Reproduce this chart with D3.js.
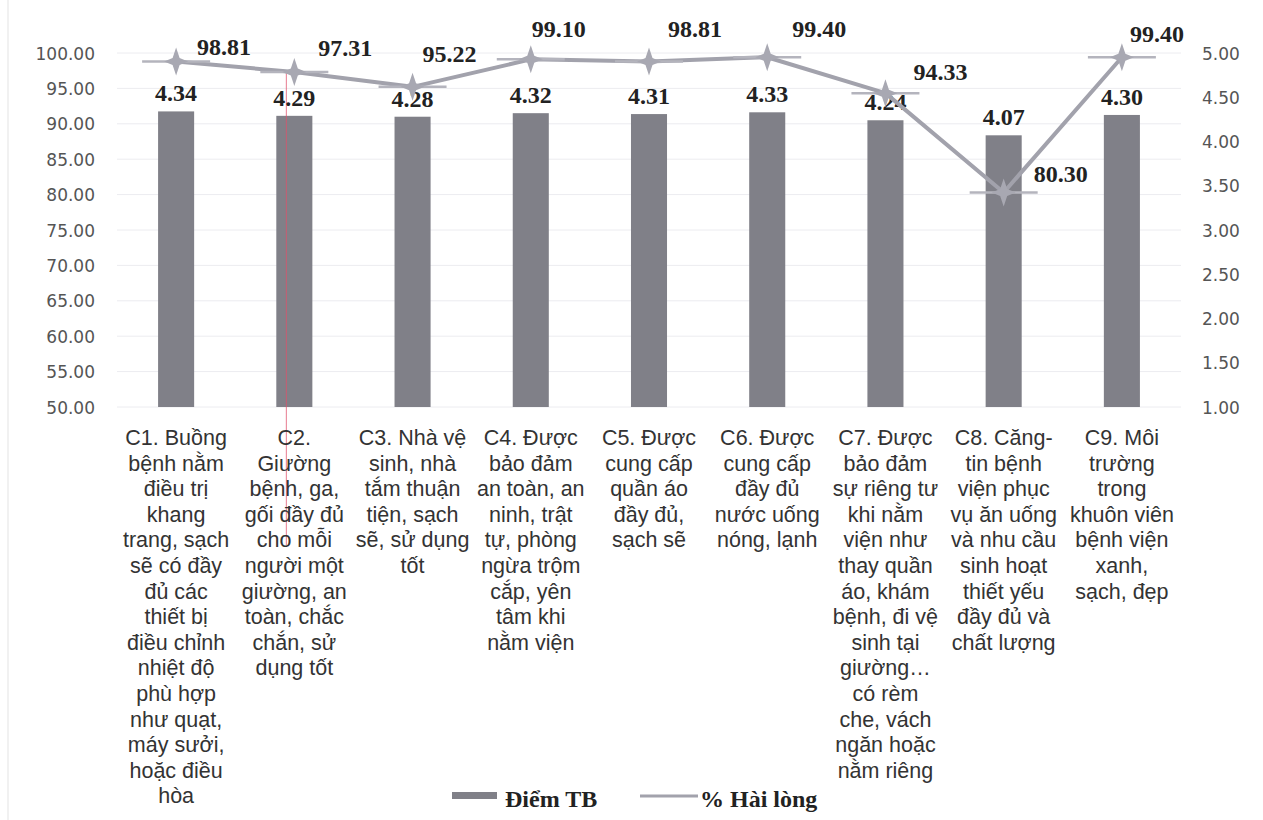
<!DOCTYPE html>
<html>
<head>
<meta charset="utf-8">
<script src="https://cdn.jsdelivr.net/npm/d3@7"></script>
<style>
  html, body { margin: 0; padding: 0; background: #ffffff; }
  svg { display: block; }
</style>
</head>
<body>
<svg id="chart" width="1263" height="820"></svg>
<script>
// ---- data ----
const categories = ["C1", "C2", "C3", "C4", "C5", "C6", "C7", "C8", "C9"];
const categoryLabels = [
  ["C1. Buồng", "bệnh nằm", "điều trị", "khang", "trang, sạch", "sẽ có đầy", "đủ các", "thiết bị", "điều chỉnh", "nhiệt độ", "phù hợp", "như quạt,", "máy sưởi,", "hoặc điều", "hòa"],
  ["C2.", "Giường", "bệnh, ga,", "gối đầy đủ", "cho mỗi", "người một", "giường, an", "toàn, chắc", "chắn, sử", "dụng tốt"],
  ["C3. Nhà vệ", "sinh, nhà", "tắm thuận", "tiện, sạch", "sẽ, sử dụng", "tốt"],
  ["C4. Được", "bảo đảm", "an toàn, an", "ninh, trật", "tự, phòng", "ngừa trộm", "cắp, yên", "tâm khi", "nằm viện"],
  ["C5. Được", "cung cấp", "quần áo", "đầy đủ,", "sạch sẽ"],
  ["C6. Được", "cung cấp", "đầy đủ", "nước uống", "nóng, lạnh"],
  ["C7. Được", "bảo đảm", "sự riêng tư", "khi nằm", "viện như", "thay quần", "áo, khám", "bệnh, đi vệ", "sinh tại", "giường…", "có rèm", "che, vách", "ngăn hoặc", "nằm riêng"],
  ["C8. Căng-", "tin bệnh", "viện phục", "vụ ăn uống", "và nhu cầu", "sinh hoạt", "thiết yếu", "đầy đủ và", "chất lượng"],
  ["C9. Môi", "trường", "trong", "khuôn viên", "bệnh viện", "xanh,", "sạch, đẹp"]
];
const diemTB = [4.34, 4.29, 4.28, 4.32, 4.31, 4.33, 4.24, 4.07, 4.30];
const haiLong = [98.81, 97.31, 95.22, 99.10, 98.81, 99.40, 94.33, 80.30, 99.40];
const leftTicks = [50, 55, 60, 65, 70, 75, 80, 85, 90, 95, 100];
const rightTicks = [1.0, 1.5, 2.0, 2.5, 3.0, 3.5, 4.0, 4.5, 5.0];
const seriesNames = ["Điểm TB", "% Hài lòng"];

// ---- layout / style (not data) ----
const lineLabelNudge = [[21, -6], [24, -16], [10, -25], [1, -22], [19, -24], [25, -20], [28, -13], [30, -10], [8, -15]];
const plot = { left: 117, right: 1181, top: 53, bottom: 407 };
const barColor = "#808088";
const lineColor = "#a2a2ac";
const markerColor = "#a8a8b2";
const numFont = "'Liberation Serif', 'Times New Roman', serif";
const sansAxis = "'DejaVu Sans', Verdana, sans-serif";
const sansCat = "'Liberation Sans', Arial, sans-serif";

const svg = d3.select("#chart");

const x = d3.scaleBand().domain(categories).range([plot.left, plot.right]).paddingInner(0).paddingOuter(0);
const yL = d3.scaleLinear().domain([50, 100]).range([plot.bottom, plot.top]);
const yR = d3.scaleLinear().domain([1, 5]).range([plot.bottom, plot.top]);

// faint scan border
svg.append("line").attr("x1", 8).attr("x2", 8).attr("y1", 0).attr("y2", 820)
  .attr("stroke", "#ececec").attr("stroke-width", 1.5);

// gridlines
svg.append("g").selectAll("line").data(leftTicks).join("line")
  .attr("x1", plot.left).attr("x2", plot.right)
  .attr("y1", d => yL(d)).attr("y2", d => yL(d))
  .attr("stroke", "#ececf0").attr("stroke-width", 1);

// left axis
const axL = svg.append("g").attr("transform", `translate(${plot.left - 20},0)`)
  .call(d3.axisLeft(yL).tickValues(leftTicks).tickFormat(d3.format(".2f")).tickSize(0).tickPadding(2));
axL.select(".domain").remove();
axL.selectAll("text").attr("font-family", sansAxis).attr("font-size", 17).attr("fill", "#555").attr("dy", "0.36em");

// right axis
const axR = svg.append("g").attr("transform", `translate(${plot.right + 19},0)`)
  .call(d3.axisRight(yR).tickValues(rightTicks).tickFormat(d3.format(".2f")).tickSize(0).tickPadding(2));
axR.select(".domain").remove();
axR.selectAll("text").attr("font-family", sansAxis).attr("font-size", 17).attr("fill", "#555").attr("dy", "0.36em");

// bars
const bw = x.bandwidth() * 0.305;
svg.append("g").selectAll("rect").data(diemTB).join("rect")
  .attr("x", (d, i) => x(categories[i]) + x.bandwidth() / 2 - bw / 2)
  .attr("width", bw)
  .attr("y", d => yR(d))
  .attr("height", d => yR(1) - yR(d))
  .attr("fill", barColor);

// red cursor artifact over C2
svg.append("line")
  .attr("x1", x("C2") + x.bandwidth() / 2 - 8).attr("x2", x("C2") + x.bandwidth() / 2 - 8)
  .attr("y1", 70).attr("y2", 545)
  .attr("stroke", "#e0506a").attr("stroke-width", 1).attr("opacity", 0.75);

// bar labels
svg.append("g").selectAll("text").data(diemTB).join("text")
  .attr("x", (d, i) => x(categories[i]) + x.bandwidth() / 2)
  .attr("y", d => yR(d) - 10)
  .attr("text-anchor", "middle")
  .attr("font-family", numFont).attr("font-weight", "bold").attr("font-size", 24)
  .attr("fill", "#222")
  .text(d => d3.format(".2f")(d));

// line
const cx = i => x(categories[i]) + x.bandwidth() / 2;
const line = d3.line().x((d, i) => cx(i)).y(d => yL(d));
svg.append("path").datum(haiLong)
  .attr("d", line).attr("fill", "none")
  .attr("stroke", lineColor).attr("stroke-width", 4).attr("stroke-linejoin", "round");

// markers: 4-point star with thin horizontal whiskers
const mg = svg.append("g").selectAll("g").data(haiLong).join("g")
  .attr("transform", (d, i) => `translate(${cx(i)},${yL(d)})`);
mg.append("line").attr("x1", -34).attr("x2", 34).attr("y1", 0).attr("y2", 0)
  .attr("stroke", "#b4b4bd").attr("stroke-width", 2.5);
mg.append("path")
  .attr("d", "M0,-14 L3.5,-3.5 L12,0 L3.5,3.5 L0,14 L-3.5,3.5 L-12,0 L-3.5,-3.5 Z")
  .attr("fill", markerColor);

// line labels
svg.append("g").selectAll("text").data(haiLong).join("text")
  .attr("x", (d, i) => cx(i) + lineLabelNudge[i][0])
  .attr("y", (d, i) => yL(d) + lineLabelNudge[i][1])
  .attr("font-family", numFont).attr("font-weight", "bold").attr("font-size", 24)
  .attr("fill", "#222")
  .text(d => d3.format(".2f")(d));

// category labels
const cat = svg.append("g").selectAll("text").data(categoryLabels).join("text")
  .attr("text-anchor", "middle")
  .attr("font-family", sansCat).attr("font-size", 21.5).attr("fill", "#333");
cat.each(function (lines, i) {
  d3.select(this).selectAll("tspan").data(lines).join("tspan")
    .attr("x", cx(i))
    .attr("y", (l, j) => 445 + j * 25.6)
    .text(l => l);
});

// legend
const lg = svg.append("g");
lg.append("rect").attr("x", 452).attr("y", 792).attr("width", 45).attr("height", 7).attr("fill", barColor);
lg.append("text").attr("x", 505).attr("y", 807)
  .attr("font-family", numFont).attr("font-weight", "bold").attr("font-size", 24).attr("fill", "#222")
  .text(seriesNames[0]);
lg.append("line").attr("x1", 640).attr("x2", 698).attr("y1", 796).attr("y2", 796)
  .attr("stroke", lineColor).attr("stroke-width", 3);
lg.append("text").attr("x", 700).attr("y", 807)
  .attr("font-family", numFont).attr("font-weight", "bold").attr("font-size", 24).attr("fill", "#222")
  .text(seriesNames[1]);
</script>
</body>
</html>
